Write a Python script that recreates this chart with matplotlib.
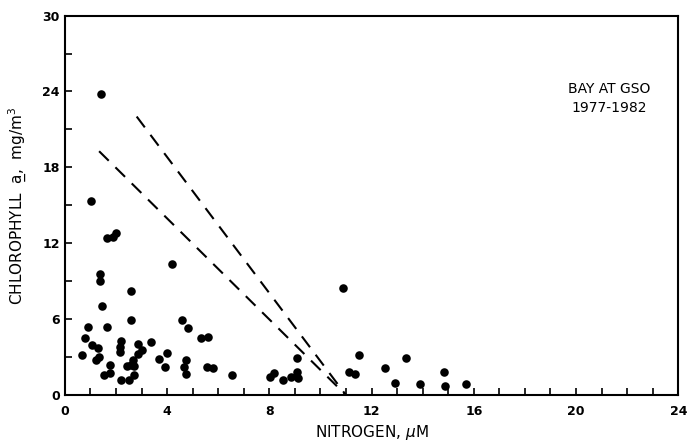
import numpy as np
import matplotlib.pyplot as plt
from matplotlib.ticker import MultipleLocator

# nitrogen (uM) and chlorophyll a (mg/m3)
nitrogen = [4.19, 1.38, 1.38, 2.58, 1.46, 2.58, 4.58, 0.90, 1.66, 4.80,
            0.78, 2.19, 2.87, 3.38, 1.05, 5.34, 5.60, 1.28, 2.17, 2.17,
            3.00, 2.86, 0.67, 1.34, 1.21, 3.99, 3.67, 2.65, 4.74, 2.58,
            1.76, 2.42, 2.71, 3.90, 4.66, 5.56, 5.81, 1.77, 1.53, 4.74,
            2.71, 2.20, 2.52, 6.55, 8.03, 8.18, 8.55, 8.84, 9.07, 9.10,
            9.12, 10.90, 11.51, 11.13, 11.35, 12.53, 13.34, 12.93, 13.91, 14.84,
            14.88, 15.71, 1.42, 1.02, 1.63, 1.87, 2.00]
chlorophyll = [10.34, 9.55, 9.02, 8.23, 7.02, 5.92, 5.92, 5.39, 5.37, 5.34,
               4.55, 4.29, 4.08, 4.18, 4.00, 4.48, 4.60, 3.69, 3.81, 3.42,
               3.55, 3.29, 3.21, 3.02, 2.76, 3.34, 2.84, 2.76, 2.76, 2.37,
               2.37, 2.29, 2.29, 2.19, 2.23, 2.19, 2.11, 1.76, 1.63, 1.71,
               1.58, 1.18, 1.18, 1.63, 1.44, 1.76, 1.18, 1.40, 2.90, 1.84,
               1.37, 8.50, 3.21, 1.84, 1.66, 2.11, 2.90, 0.97, 0.87, 1.84,
               0.71, 0.87, 23.81, 15.34, 12.39, 12.49, 12.81]

# dashed limit lines
upper_x = [2.81, 11.0]
upper_y = [22.02, 0.0]
lower_x = [1.34, 11.0]
lower_y = [19.28, 0.0]

fig = plt.figure(figsize=(6.9, 4.45), dpi=100)
ax = fig.add_axes([0.094, 0.112, 0.889, 0.853])

ax.scatter(nitrogen, chlorophyll, s=38, color='black', zorder=3, linewidths=0)
ax.plot(upper_x, upper_y, color='black', lw=1.5, dashes=(6.5, 4.5))
ax.plot(lower_x, lower_y, color='black', lw=1.5, dashes=(6.5, 4.5))

ax.set_xlim(0, 24)
ax.set_ylim(0, 30)
ax.xaxis.set_major_locator(MultipleLocator(4))
ax.xaxis.set_minor_locator(MultipleLocator(1))
ax.yaxis.set_major_locator(MultipleLocator(6))
ax.yaxis.set_minor_locator(MultipleLocator(3))
ax.tick_params(which='both', direction='in', length=5, width=1.2)
ax.tick_params(axis='x', pad=7)
ax.tick_params(labelsize=9)
for lab in ax.get_xticklabels() + ax.get_yticklabels():
    lab.set_fontweight('bold')
for sp in ax.spines.values():
    sp.set_linewidth(1.5)

ax.set_xlabel(r'NITROGEN, $\mu$M', fontsize=11, labelpad=4)
ax.set_ylabel('CHLOROPHYLL  a\u0332,  mg/m$^3$', fontsize=11, labelpad=10)

ax.text(21.3, 24.2, 'BAY AT GSO', ha='center', va='center', fontsize=10)
ax.text(21.3, 22.7, '1977-1982', ha='center', va='center', fontsize=10)

fig.savefig('out.png', dpi=100)
